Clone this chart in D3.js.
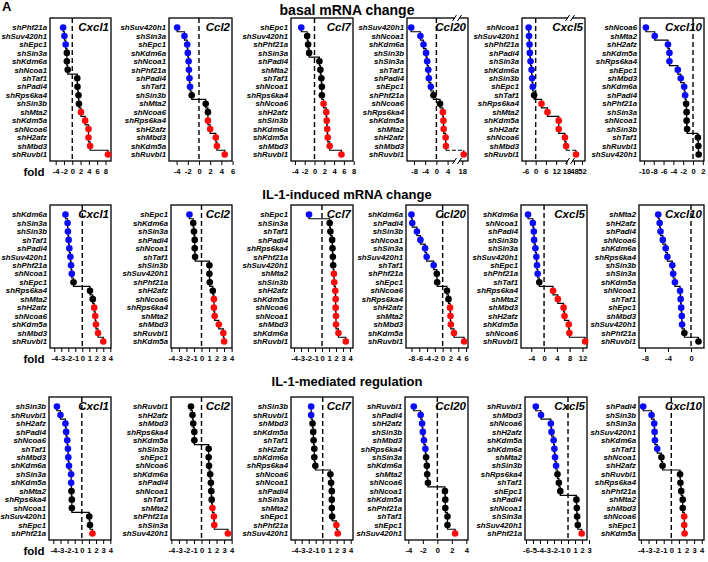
<!DOCTYPE html>
<html><head><meta charset="utf-8">
<script src="https://cdn.jsdelivr.net/npm/d3@7"></script>
<style>
body{margin:0;background:#fff}
svg{display:block}
text{font-family:"Liberation Sans",Arial,Helvetica,sans-serif}
</style></head><body>
<svg id="chart" width="708" height="562"></svg>
<script>
// ---------------- DATA ----------------
const panelLetter = "A";
const rowTitles = ["basal mRNA change", "IL-1-induced mRNA change", "IL-1-mediated regulation"];
const geneNames = ["Cxcl1", "Ccl2", "Ccl7", "Ccl20", "Cxcl5", "Cxcl10"];
const axisLabel = "fold";

// basal mRNA change
const basalCxcl1Labels = ["shPhf21a","shSuv420h1","shEpc1","shSin3a","shKdm6a","shNcoa1","shTaf1","shPadi4","shRps6ka4","shSin3b","shMta2","shKdm5a","shNcoa6","shH2afz","shMbd3","shRuvbl1"];
const basalCxcl1Values = [-2.2,-1.9,-1.6,-1.3,-1.3,-1.1,1.2,1.25,1.5,1.6,2.1,3.1,3.9,3.9,4.3,8.6];
const basalCxcl1Groups = "bbbkkkkkkkrrrrrr";
const basalCcl2Labels = ["shSuv420h1","shSin3a","shEpc1","shKdm6a","shNcoa1","shPhf21a","shPadi4","shTaf1","shSin3b","shMta2","shNcoa6","shRps6ka4","shH2afz","shMbd3","shKdm5a","shRuvbl1"];
const basalCcl2Values = [-3.9,-2.6,-2.1,-2.0,-1.85,-1.8,-1.7,-1.6,-1.3,1.2,1.6,1.6,2.0,3.0,3.2,4.6];
const basalCcl2Groups = "bbbbbbbbkkkrrrrr";
const basalCcl7Labels = ["shEpc1","shSuv420h1","shPhf21a","shSin3a","shPadi4","shMta2","shTaf1","shNcoa1","shRps6ka4","shNcoa6","shH2afz","shSin3b","shKdm6a","shKdm5a","shMbd3","shRuvbl1"];
const basalCcl7Values = [-2.7,-1.5,-1.3,-1.1,1.0,1.2,1.4,1.5,1.5,1.85,2.4,2.5,2.6,2.7,3.1,5.5];
const basalCcl7Groups = "bkkkkkkkkrrrrrrr";
const basalCcl20Labels = ["shSuv420h1","shNcoa1","shKdm6a","shSin3b","shSin3a","shTaf1","shPadi4","shEpc1","shPhf21a","shNcoa6","shRps6ka4","shKdm5a","shMta2","shH2afz","shMbd3","shRuvbl1"];
const basalCcl20Values = [-9.0,-5.7,-4.6,-3.7,-3.3,-2.9,-2.7,-2.0,-1.05,1.3,2.3,2.5,2.6,3.3,3.4,18.5];
const basalCcl20Groups = "bbbbbbbbkkrrrrrr";
const basalCxcl5Labels = ["shNcoa1","shSuv420h1","shPhf21a","shPadi4","shSin3a","shKdm6a","shSin3b","shEpc1","shTaf1","shRps6ka4","shMta2","shKdm5a","shH2afz","shNcoa6","shMbd3","shRuvbl1"];
const basalCxcl5Values = [-4.1,-3.9,-3.6,-3.4,-3.0,-2.4,-2.1,-1.7,-0.9,3.4,6.9,13.5,13.5,17.1,17.8,49];
const basalCxcl5Groups = "bbbbbbbbkrrrrrrr";
const basalCxcl10Labels = ["shNcoa6","shMta2","shH2afz","shKdm5a","shRps6ka4","shEpc1","shMbd3","shKdm6a","shPadi4","shPhf21a","shSin3a","shNcoa1","shSin3b","shTaf1","shRuvbl1","shSuv420h1"];
const basalCxcl10Values = [-9.6,-7.8,-5.1,-4.8,-4.8,-3.1,-2.5,-1.8,-1.6,-1.4,-1.3,-1.3,-1.2,1.0,1.1,1.15];
const basalCxcl10Groups = "bbbbbbbbbkkkkkkk";

// IL-1-induced mRNA change
const inducedCxcl1Labels = ["shKdm6a","shSin3a","shSin3b","shTaf1","shPadi4","shSuv420h1","shPhf21a","shNcoa1","shEpc1","shRps6ka4","shMta2","shH2afz","shNcoa6","shKdm5a","shMbd3","shRuvbl1"];
const inducedCxcl1Values = [-2.4,-2.1,-2.05,-1.95,-1.85,-1.7,-1.6,-1.5,-1.25,1.1,1.5,1.7,1.85,1.95,2.25,3.0];
const inducedCxcl1Groups = "bbbbbbbbkkkrrrrr";
const inducedCcl2Labels = ["shEpc1","shKdm6a","shSin3a","shPadi4","shNcoa1","shTaf1","shSin3b","shSuv420h1","shPhf21a","shH2afz","shNcoa6","shRps6ka4","shMta2","shMbd3","shRuvbl1","shKdm5a"];
const inducedCcl2Values = [-1.6,-1.1,-1.0,-0.9,-0.9,-0.85,1.05,1.05,1.1,1.5,1.65,1.65,1.75,2.3,2.9,3.0];
const inducedCcl2Groups = "bkkkkkkkkkrrrrrr";
const inducedCcl7Labels = ["shEpc1","shSin3a","shTaf1","shPadi4","shRps6ka4","shPhf21a","shSuv420h1","shMta2","shSin3b","shH2afz","shKdm5a","shNcoa6","shNcoa1","shMbd3","shKdm6a","shRuvbl1"];
const inducedCcl7Values = [-1.85,1.1,1.2,1.45,1.5,1.55,1.6,1.7,1.75,1.9,1.95,1.95,2.0,2.0,2.35,3.4];
const inducedCcl7Groups = "bkkkkkkrrrrrrrrr";
const inducedCcl20Labels = ["shKdm6a","shPadi4","shSin3b","shNcoa1","shSin3a","shSuv420h1","shTaf1","shPhf21a","shEpc1","shNcoa6","shRps6ka4","shH2afz","shMta2","shMbd3","shKdm5a","shRuvbl1"];
const inducedCcl20Values = [-8.0,-7.8,-6.6,-5.7,-4.5,-4.1,-2.3,-1.5,-1.4,1.1,1.5,1.9,2.0,2.1,2.9,5.5];
const inducedCcl20Groups = "bbbbbbbkkkkrrrrr";
const inducedCxcl5Labels = ["shKdm6a","shNcoa1","shPadi4","shSin3b","shSin3a","shSuv420h1","shEpc1","shPhf21a","shTaf1","shRps6ka4","shMta2","shMbd3","shH2afz","shKdm5a","shNcoa6","shRuvbl1"];
const inducedCxcl5Values = [-5.0,-3.5,-3.2,-3.1,-2.7,-2.4,-2.2,-2.0,-1.5,2.8,4.3,6.1,6.4,7.7,7.9,12.8];
const inducedCxcl5Groups = "bbbbbbbbkrrrrrrr";
const inducedCxcl10Labels = ["shMta2","shH2afz","shPadi4","shNcoa6","shKdm6a","shRps6ka4","shSin3b","shSin3a","shKdm5a","shNcoa1","shTaf1","shEpc1","shMbd3","shSuv420h1","shPhf21a","shRuvbl1"];
const inducedCxcl10Values = [-5.7,-5.45,-5.3,-4.9,-4.4,-4.1,-3.25,-3.1,-2.8,-1.9,-1.8,-1.7,-1.6,-1.55,-1.15,1.3];
const inducedCxcl10Groups = "bbbbbbbbbbbbbbkk";

// IL-1-mediated regulation
const mediatedCxcl1Labels = ["shSin3b","shRuvbl1","shH2afz","shPadi4","shNcoa6","shTaf1","shMbd3","shKdm6a","shSin3a","shKdm5a","shMta2","shRps6ka4","shNcoa1","shSuv420h1","shEpc1","shPhf21a"];
const mediatedCxcl1Values = [-3.5,-3.0,-2.3,-2.2,-2.05,-1.95,-1.9,-1.8,-1.5,-1.5,-1.45,-1.4,-1.4,1.05,1.15,1.5];
const mediatedCxcl1Groups = "bbbbbbbbbbkkkkkr";
const mediatedCcl2Labels = ["shRuvbl1","shH2afz","shMbd3","shRps6ka4","shKdm5a","shSin3b","shEpc1","shNcoa6","shKdm6a","shPadi4","shNcoa1","shTaf1","shMta2","shPhf21a","shSin3a","shSuv420h1"];
const mediatedCcl2Values = [-1.4,-1.2,-1.1,-0.95,-0.95,0.95,0.95,1.0,1.15,1.25,1.3,1.35,1.45,1.65,1.7,3.5];
const mediatedCcl2Groups = "kkkkkkkkkkkkrrrr";
const mediatedCcl7Labels = ["shSin3b","shRuvbl1","shMbd3","shKdm5a","shTaf1","shH2afz","shKdm6a","shRps6ka4","shNcoa6","shNcoa1","shPadi4","shSin3a","shMta2","shEpc1","shPhf21a","shSuv420h1"];
const mediatedCcl7Values = [-1.65,-1.65,-1.45,-1.35,-1.3,-1.2,-1.2,-1.05,1.1,1.2,1.3,1.3,1.3,1.35,1.95,2.15];
const mediatedCcl7Groups = "bbkkkkkkkkkkkkrr";
const mediatedCcl20Labels = ["shRuvbl1","shPadi4","shH2afz","shSin3b","shMbd3","shRps6ka4","shSin3a","shKdm6a","shMta2","shNcoa6","shNcoa1","shKdm5a","shPhf21a","shTaf1","shEpc1","shSuv420h1"];
const mediatedCcl20Values = [-3.25,-2.3,-2.1,-2.0,-1.85,-1.65,-1.55,-1.45,-1.4,-1.3,1.05,1.1,1.1,1.4,1.4,2.45];
const mediatedCcl20Groups = "bbbbbbkkkkkkkkkr";
const mediatedCxcl5Labels = ["shRuvbl1","shMbd3","shNcoa6","shH2afz","shKdm5a","shKdm6a","shMta2","shSin3b","shRps6ka4","shTaf1","shEpc1","shPadi4","shNcoa1","shSin3a","shSuv420h1","shPhf21a"];
const mediatedCxcl5Values = [-4.6,-3.85,-2.45,-2.35,-2.05,-1.95,-1.85,-1.7,-1.5,-1.3,-1.1,1.2,1.25,1.3,1.4,1.95];
const mediatedCxcl5Groups = "bbbbbbbbkkkkkkkr";
const mediatedCxcl10Labels = ["shPadi4","shSin3b","shSin3a","shSuv420h1","shKdm6a","shTaf1","shNcoa1","shH2afz","shRuvbl1","shRps6ka4","shPhf21a","shMta2","shMbd3","shNcoa6","shEpc1","shKdm5a"];
const mediatedCxcl10Values = [-3.7,-2.6,-2.25,-2.2,-2.15,-1.85,-1.3,-1.15,1.15,1.2,1.3,1.5,1.5,1.7,1.7,1.75];
const mediatedCxcl10Groups = "bbbbbbkkkkkkkrrr";

// tick labels
const basalTicks = [[-4,-2,0,2,4,6,8],[-4,-2,0,2,4,6],[-4,-2,0,2,4,6,8],[-8,-4,0,4,18],[-6,0,6,12,18,48,52],[-10,-8,-6,-4,-2,0,2]];
const inducedTicks = [[-4,-3,-2,-1,0,1,2,3,4],[-4,-3,-2,-1,0,1,2,3,4],[-4,-3,-2,-1,0,1,2,3,4],[-8,-6,-4,-2,0,2,4,6],[-4,0,4,8,12],[-8,-4,0]];
const mediatedTicks = [[-4,-3,-2,-1,0,1,2,3,4],[-4,-3,-2,-1,0,1,2,3,4],[-4,-3,-2,-1,0,1,2,3,4],[-4,-2,0,2,4],[-6,-5,-4,-3,-2,-1,0,1,2,3],[-4,-3,-2,-1,0,1,2,3,4]];

// ---------------- TABLE ----------------
const table = [
  [[basalCxcl1Labels,basalCxcl1Values,basalCxcl1Groups],[basalCcl2Labels,basalCcl2Values,basalCcl2Groups],[basalCcl7Labels,basalCcl7Values,basalCcl7Groups],[basalCcl20Labels,basalCcl20Values,basalCcl20Groups],[basalCxcl5Labels,basalCxcl5Values,basalCxcl5Groups],[basalCxcl10Labels,basalCxcl10Values,basalCxcl10Groups]],
  [[inducedCxcl1Labels,inducedCxcl1Values,inducedCxcl1Groups],[inducedCcl2Labels,inducedCcl2Values,inducedCcl2Groups],[inducedCcl7Labels,inducedCcl7Values,inducedCcl7Groups],[inducedCcl20Labels,inducedCcl20Values,inducedCcl20Groups],[inducedCxcl5Labels,inducedCxcl5Values,inducedCxcl5Groups],[inducedCxcl10Labels,inducedCxcl10Values,inducedCxcl10Groups]],
  [[mediatedCxcl1Labels,mediatedCxcl1Values,mediatedCxcl1Groups],[mediatedCcl2Labels,mediatedCcl2Values,mediatedCcl2Groups],[mediatedCcl7Labels,mediatedCcl7Values,mediatedCcl7Groups],[mediatedCcl20Labels,mediatedCcl20Values,mediatedCcl20Groups],[mediatedCxcl5Labels,mediatedCxcl5Values,mediatedCxcl5Groups],[mediatedCxcl10Labels,mediatedCxcl10Values,mediatedCxcl10Groups]]
];
const tickTable = [basalTicks, inducedTicks, mediatedTicks];

// ---------------- LAYOUT ----------------
const rowTop = [18, 205, 397];
const boxH = 143;
const titleY = [15, 199, 386];
const titleSize = [14, 13, 13];
const boxX = [
  [[50,111],[169,232],[291,353],[407,468],[522,585],[640,704]],
  [[50,111],[171,232],[291,353],[406,468],[521,587],[639,704]],
  [[49,111],[171,232],[291,353],[405,468],[525,587],[639,704]]
];
const domains = [
  [[-5.37,9.33],[-5.36,5.9],[-4.8,7.86],[-10.5,7,16.5,20],[-8,19.5,46.5,53.5],[-10.8,2.24]],
  [[-4.61,4.1],[-4.05,4.05],[-4.43,4.43],[-9.4,6.5],[-7.2,13.4],[-9.04,2.26]],
  [[-4.61,4.1],[-4.05,4.05],[-4.53,4.33],[-4.46,4.23],[-6.14,2.71],[-4.25,4.3]]
];
const breakRanges = {"0-3":[456,458], "0-4":[569,571]};
const colors = {b:"#0a0aff", k:"#000000", r:"#ff0a0a"};

const svg = d3.select("#chart");
svg.append("rect").attr("width",708).attr("height",562).attr("fill","#fff");

svg.append("text").attr("x",2).attr("y",11).attr("font-size",13).attr("font-weight","bold").text(panelLetter);

rowTitles.forEach((t,ri)=>{
  svg.append("text").attr("x",347).attr("y",titleY[ri]).attr("text-anchor","middle")
    .attr("font-size",titleSize[ri]).attr("font-weight","bold").text(t);
  svg.append("text").attr("x",34).attr("y",rowTop[ri]+boxH+14.5).attr("text-anchor","middle")
    .attr("font-size",11.5).attr("font-weight","bold").text(axisLabel);
});

const line = d3.line();

table.forEach((row, ri) => {
  row.forEach((panel, ci) => {
    const [labels, values, groups] = panel;
    const [x0, x1] = boxX[ri][ci];
    const dom = domains[ri][ci];
    const key = ri + "-" + ci;
    const brk = breakRanges[key];
    const T = rowTop[ri];
    const B = T + boxH;
    const x = d3.scaleLinear().domain(dom).range(brk ? [x0, brk[0], brk[1], x1] : [x0, x1]);
    const y = d3.scalePoint().domain(d3.range(labels.length)).range([T + 9.5, T + 136.5]);
    const g = svg.append("g");

    // axis
    const ax = g.append("g").attr("transform", `translate(0,${B})`)
      .call(d3.axisBottom(x).tickValues(tickTable[ri][ci]).tickSize(4).tickPadding(4).tickFormat(d => String(d)));
    ax.select(".domain").remove();
    ax.selectAll(".tick line").attr("stroke","#000").attr("stroke-width",1);
    ax.selectAll(".tick text").attr("font-size",7.6).attr("font-weight","bold").attr("font-family",'"Liberation Sans",Arial,sans-serif').attr("fill","#000");

    // zero line
    g.append("line").attr("x1",x(0)).attr("x2",x(0)).attr("y1",T).attr("y2",B)
      .attr("stroke","#000").attr("stroke-width",1.4).attr("stroke-dasharray","5,3");

    // step line
    const xs = values.map(v => x(v));
    const ys = labels.map((_, i) => y(i));
    const n = values.length;
    const pts = [[xs[0], ys[0]]];
    const lastSolid = brk ? n - 2 : n - 1;
    for (let i = 0; i < lastSolid; i++) {
      const m = (ys[i] + ys[i+1]) / 2;
      pts.push([xs[i], m], [xs[i+1], m], [xs[i+1], ys[i+1]]);
    }
    if (brk) {
      const m = (ys[n-2] + ys[n-1]) / 2;
      pts.push([xs[n-2], m]);
    }
    g.append("path").attr("d", line(pts)).attr("fill","none").attr("stroke","#000").attr("stroke-width",1.2);
    if (brk) {
      const m = (ys[n-2] + ys[n-1]) / 2;
      g.append("path").attr("d", line([[xs[n-2], m], [xs[n-1], m]])).attr("fill","none")
        .attr("stroke","#000").attr("stroke-width",1.2).attr("stroke-dasharray","4,2");
      g.append("path").attr("d", line([[xs[n-1], m], [xs[n-1], ys[n-1]]])).attr("fill","none")
        .attr("stroke","#000").attr("stroke-width",1.2);
    }

    // box
    g.append("rect").attr("x",x0).attr("y",T).attr("width",x1-x0).attr("height",boxH)
      .attr("fill","none").attr("stroke","#000").attr("stroke-width",1.3);

    // break marks
    if (brk) {
      [T, B].forEach(yy => {
        g.append("rect").attr("x",brk[0]-1).attr("y",yy-2).attr("width",brk[1]-brk[0]+2).attr("height",4).attr("fill","#fff");
        [brk[0]-1.5, brk[1]+1.5].forEach(bx => {
          g.append("line").attr("x1",bx-2).attr("y1",yy+3).attr("x2",bx+2).attr("y2",yy-3)
            .attr("stroke","#000").attr("stroke-width",1);
        });
      });
    }

    // points
    g.selectAll("circle").data(values).join("circle")
      .attr("cx", d => x(d)).attr("cy", (d, i) => y(i)).attr("r", 3.3)
      .attr("fill", (d, i) => colors[groups[i]]);

    // row labels
    g.selectAll("text.lab").data(labels).join("text").attr("class","lab")
      .attr("x", x0 - 3).attr("y", (d, i) => y(i)).attr("dy","0.35em")
      .attr("text-anchor","end").attr("font-size",7.8).attr("font-weight","bold").attr("font-style","italic")
      .text(d => d);

    // gene name
    g.append("text").attr("x", x1 - 2).attr("y", T + 12.5).attr("text-anchor","end")
      .attr("font-size",11.5).attr("font-weight","bold").attr("font-style","italic").text(geneNames[ci]);
  });
});
</script>
</body></html>
